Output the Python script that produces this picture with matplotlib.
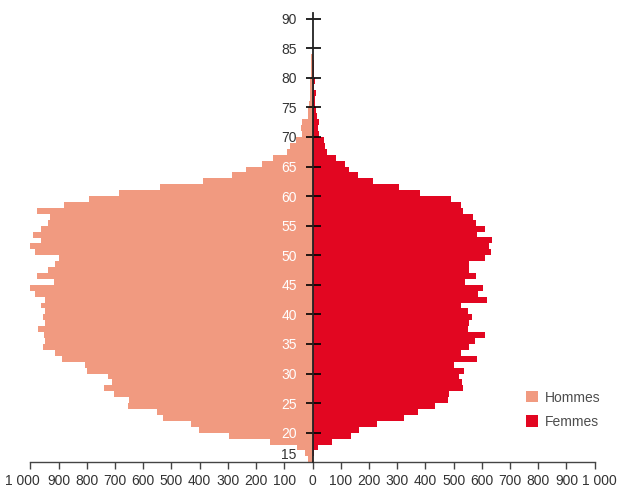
import numpy as np
import matplotlib
matplotlib.use("Agg")
import matplotlib.pyplot as plt
import matplotlib.transforms as mtransforms
from matplotlib.patches import Patch

plt.rcParams['font.family'] = ['Liberation Sans Narrow', 'Liberation Sans', 'DejaVu Sans']

# one bar per year of age, 15 to 83
ages = np.arange(15, 84)
hommes = [15, 27, 56, 151, 296, 402, 431, 530, 552, 653,
          651, 702, 739, 710, 725, 800, 806, 888, 912, 954,
          948, 951, 972, 948, 954, 948, 962, 948, 983, 1001,
          915, 976, 936, 912, 898, 983, 1001, 962, 989, 962,
          936, 930, 976, 881, 792, 685, 540, 388, 285, 236,
          178, 139, 90, 78, 60, 38, 41, 38, 16, 16,
          14, 9, 9, 8, 9, 6, 5, 5, 5]
femmes = [2, 5, 18, 69, 136, 165, 229, 324, 374, 434,
          480, 484, 534, 530, 520, 537, 502, 583, 526, 555,
          576, 611, 551, 555, 565, 551, 526, 618, 586, 604,
          540, 579, 555, 555, 611, 633, 626, 636, 583, 611,
          579, 569, 533, 526, 491, 381, 307, 214, 161, 129,
          115, 83, 51, 44, 41, 23, 19, 23, 16, 12,
          9, 8, 11, 4, 8, 4, 4, 4, 0]

age_ticks = np.arange(15, 91, 5)
x_ticks = np.arange(-1000, 1001, 100)

c_h = '#F19A80'
c_f = '#E20621'
c_txt = '#333333'
fs = 10

W, H = 617, 490
fig = plt.figure(figsize=(W / 100, H / 100), dpi=100)
ax = fig.add_axes([30.3 / W, 27.7 / H, 564.4 / W, 449.6 / H])

# antialiasing off so neighbouring bars join without seams
ax.barh(ages, -np.array(hommes), height=1, align='edge', color=c_h,
        linewidth=0, antialiased=False, zorder=1)
ax.barh(ages, femmes, height=1, align='edge', color=c_f,
        linewidth=0, antialiased=False, zorder=1)

ax.set_xlim(-1000, 1000)
ax.set_ylim(15, 91)

# axes: bottom line and a centre line at zero
ax.spines['top'].set_visible(False)
ax.spines['left'].set_position(('data', 0))
ax.spines['right'].set_position(('data', 0))
ax.spines['right'].set_visible(False)
ax.spines['left'].set_color('#222222')
ax.spines['left'].set_linewidth(1.3)
ax.spines['left'].set_zorder(3)
ax.spines['bottom'].set_bounds(-1000, 1000)
ax.spines['bottom'].set_color('#444444')
ax.spines['bottom'].set_linewidth(1.0)

ax.set_xticks(x_ticks)
ax.set_xticklabels([f"{abs(v):,}".replace(',', ' ') for v in x_ticks])
ax.tick_params(axis='x', direction='out', length=5, width=1, color='#444444',
               labelsize=fs, labelcolor=c_txt, pad=3.5)

ax.set_yticks(age_ticks)
ax.set_yticklabels([str(a) for a in age_ticks])
ax.yaxis.set_ticks_position('both')
ax.tick_params(axis='y', direction='out', length=5.4, width=1.2,
               labelsize=fs, pad=6, left=True, right=True,
               labelleft=True, labelright=False)

for a, tick in zip(age_ticks, ax.yaxis.get_major_ticks()):
    over_bars = 20 <= a <= 70
    tick.tick1line.set_color('white' if over_bars else '#111111')
    tick.tick2line.set_color('#6a0612' if over_bars else '#111111')
    tick.label1.set_color('white' if 20 <= a <= 65 else c_txt)
    if a == 15:
        tick.tick1line.set_visible(False)
        tick.tick2line.set_visible(False)
        tick.label1.set_transform(tick.label1.get_transform() +
                                  mtransforms.ScaledTranslation(0, 9 / 100, fig.dpi_scale_trans))

# nudge the outer "1 000" labels outwards
xt = ax.xaxis.get_major_ticks()
xt[0].label1.set_transform(xt[0].label1.get_transform() +
                           mtransforms.ScaledTranslation(-8 / 100, 0, fig.dpi_scale_trans))
xt[-1].label1.set_transform(xt[-1].label1.get_transform() +
                            mtransforms.ScaledTranslation(5 / 100, 0, fig.dpi_scale_trans))

handles = [Patch(facecolor=c_h, edgecolor='none'), Patch(facecolor=c_f, edgecolor='none')]
fig.legend(handles, ['Hommes', 'Femmes'], loc='upper left',
           bbox_to_anchor=(525.5 / W, 1 - 390.5 / H), frameon=False,
           borderpad=0, borderaxespad=0, handlelength=0.87, handleheight=0.87,
           handletextpad=0.5, labelspacing=0.75, fontsize=fs, labelcolor='#4d4d4d')

fig.savefig('out.png', dpi=100)
